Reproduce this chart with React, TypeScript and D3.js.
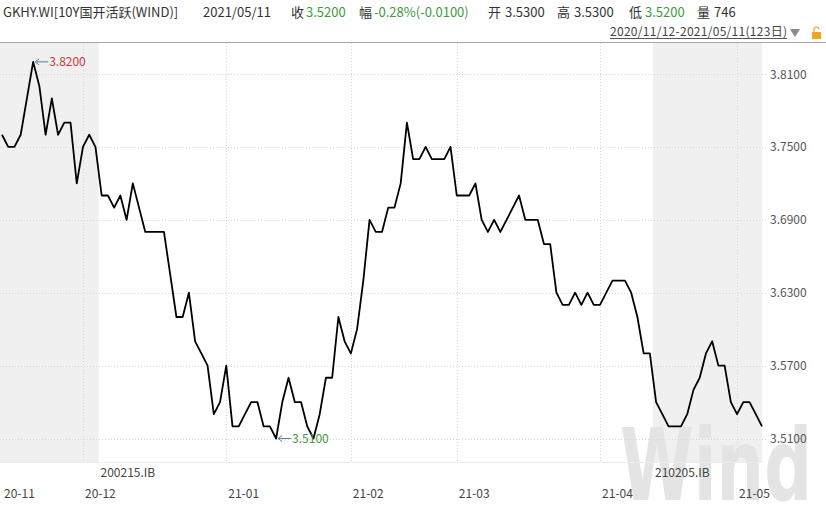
import * as d3 from "d3";

// 10Y CDB active bond yield, 2020/11/12 - 2021/05/11, 123 trading days
const yields = [
  3.76, 3.75, 3.75, 3.76, 3.79, 3.82, 3.8, 3.76, 3.79, 3.76,
  3.77, 3.77, 3.72, 3.75, 3.76, 3.75, 3.71, 3.71, 3.7, 3.71,
  3.69, 3.72, 3.7, 3.68, 3.68, 3.68, 3.68, 3.645, 3.61, 3.61,
  3.63, 3.59, 3.58, 3.57, 3.53, 3.54, 3.57, 3.52, 3.52, 3.53,
  3.54, 3.54, 3.52, 3.52, 3.51, 3.54, 3.56, 3.54, 3.54, 3.52,
  3.51, 3.53, 3.56, 3.56, 3.61, 3.59, 3.58, 3.6, 3.64, 3.69,
  3.68, 3.68, 3.7, 3.7, 3.72, 3.77, 3.74, 3.74, 3.75, 3.74,
  3.74, 3.74, 3.75, 3.71, 3.71, 3.71, 3.72, 3.69, 3.68, 3.69,
  3.68, 3.69, 3.7, 3.71, 3.69, 3.69, 3.69, 3.67, 3.67, 3.63,
  3.62, 3.62, 3.63, 3.62, 3.63, 3.62, 3.62, 3.63, 3.64, 3.64,
  3.64, 3.63, 3.61, 3.58, 3.58, 3.54, 3.53, 3.52, 3.52, 3.52,
  3.53, 3.55, 3.56, 3.58, 3.59, 3.57, 3.57, 3.54, 3.53, 3.54,
  3.54, 3.53, 3.52,
];

// first trading day of each month (index into yields)
const monthLabels = ["20-11", "20-12", "21-01", "21-02", "21-03", "21-04", "21-05"];
const monthIdx = [0, 13, 36, 56, 73, 96, 118];

const yTicks = [3.51, 3.57, 3.63, 3.69, 3.75, 3.81];

// active bond changes (shaded / unshaded segments)
const rollCodes = ["200215.IB", "210205.IB"];
const rollIdx = [15.5, 104.5];

const W = 826;
const H = 506;
const plotTop = 42;
const plotBottom = 462;
const plotRight = 762;

const font = "'Noto Sans CJK SC', 'Noto Sans', sans-serif";
const green = "#3c9a3c";

export default function App() {
  const x = d3.scaleLinear().domain([0, yields.length - 1]).range([2, plotRight]);
  const y = d3.scaleLinear().domain([3.51, 3.81]).range([438.5, 74]);
  const path = d3
    .line<number>()
    .x((d, i) => x(i))
    .y((d) => y(d))(yields);

  const maxI = d3.maxIndex(yields);
  const minI = d3.minIndex(yields);
  const fmt = d3.format(".4f");

  // shaded bands: before first roll, and after second roll
  const bands = [
    [0, x(rollIdx[0])],
    [x(rollIdx[1]), plotRight],
  ];

  const arrow = (px: number, py: number, color: string) => (
    <g stroke={color} strokeWidth={1} fill="none">
      <line x1={px + 2} y1={py} x2={px + 15} y2={py} />
      <polyline points={`${px + 6},${py - 3} ${px + 2},${py} ${px + 6},${py + 3}`} />
    </g>
  );

  return (
    <svg
      width={W}
      height={H}
      style={{ position: "absolute", left: 0, top: 0, background: "#fff" }}
      fontFamily={font}
    >
      {/* header */}
      <g fontSize={13} fill="#333">
        <text x={3} y={17}>GKHY.WI[10Y国开活跃(WIND)]</text>
        <text x={203} y={17}>2021/05/11</text>
        <text x={291} y={17}>收</text>
        <text x={306} y={17} fill={green}>3.5200</text>
        <text x={359} y={17}>幅</text>
        <text x={374} y={17} fill={green}>-0.28%(-0.0100)</text>
        <text x={488} y={17}>开</text>
        <text x={505} y={17}>3.5300</text>
        <text x={557} y={17}>高</text>
        <text x={574} y={17}>3.5300</text>
        <text x={629} y={17}>低</text>
        <text x={645} y={17} fill={green}>3.5200</text>
        <text x={697} y={17}>量</text>
        <text x={714} y={17}>746</text>
      </g>
      <text x={610} y={36} fontSize={12} fill="#444" textLength={177}>
        2020/11/12-2021/05/11(123日)
      </text>
      <line x1={610} x2={787} y1={38.5} y2={38.5} stroke="#555" />
      <path d="M790,29 L800,29 L795,37 Z" fill="#8a8a8a" />
      <rect x={812} y={32} width={9} height={7} fill="#f0a428" />
      <path d="M814,32 v-2.5 a2.5,2.5 0 0 1 5,0" fill="none" stroke="#f0a428" strokeWidth={1.2} />
      <line x1={0} x2={W} y1={42.5} y2={42.5} stroke="#a8a8a8" />

      {/* shaded segments */}
      {bands.map(([a, b], i) => (
        <rect key={i} x={a} y={plotTop + 1} width={b - a} height={plotBottom - plotTop - 1} fill="#f0f0f0" />
      ))}

      {/* watermark */}
      <text
        x={620}
        y={500}
        fontSize={100}
        fontWeight="bold"
        fontFamily="'DejaVu Sans', sans-serif"
        fill="#e4e4e4"
        textLength={192}
        lengthAdjust="spacingAndGlyphs"
      >
        Wind
      </text>

      {/* grid */}
      <g stroke="#d6d6d6" strokeDasharray="1,2">
        {yTicks.map((t) => (
          <line key={t} x1={0} x2={plotRight + 6} y1={Math.round(y(t)) + 0.5} y2={Math.round(y(t)) + 0.5} />
        ))}
        {monthIdx.slice(1).map((m) => (
          <line key={m} x1={Math.round(x(m)) + 0.5} x2={Math.round(x(m)) + 0.5} y1={plotTop + 1} y2={plotBottom} />
        ))}
      </g>
      <line x1={0} x2={plotRight} y1={plotBottom + 0.5} y2={plotBottom + 0.5} stroke="#ececec" />

      {/* y axis labels */}
      <g fontSize={12} fill="#555">
        {yTicks.map((t) => (
          <text key={t} x={770} y={y(t) + 4.5}>
            {fmt(t)}
          </text>
        ))}
      </g>

      {/* series */}
      <path d={path ?? ""} fill="none" stroke="#000" strokeWidth={1.8} strokeLinejoin="round" />

      {/* max / min markers */}
      {arrow(x(maxI), y(yields[maxI]), "#4f8596")}
      <text x={x(maxI) + 16} y={y(yields[maxI]) + 4.5} fontSize={12} fill="#c8383a">
        {fmt(yields[maxI])}
      </text>
      {arrow(x(minI), y(yields[minI]), "#4f8596")}
      <text x={x(minI) + 16} y={y(yields[minI]) + 4.5} fontSize={12} fill={green}>
        {fmt(yields[minI])}
      </text>

      {/* bond codes */}
      <g fontSize={12} fill="#444">
        {rollCodes.map((c, i) => (
          <text key={c} x={x(rollIdx[i]) + 2} y={477}>
            {c}
          </text>
        ))}
      </g>

      {/* month labels */}
      <g fontSize={12} fill="#444">
        {monthLabels.map((m, i) => (
          <text key={m} x={x(monthIdx[i]) + 2} y={498}>
            {m}
          </text>
        ))}
      </g>
    </svg>
  );
}
